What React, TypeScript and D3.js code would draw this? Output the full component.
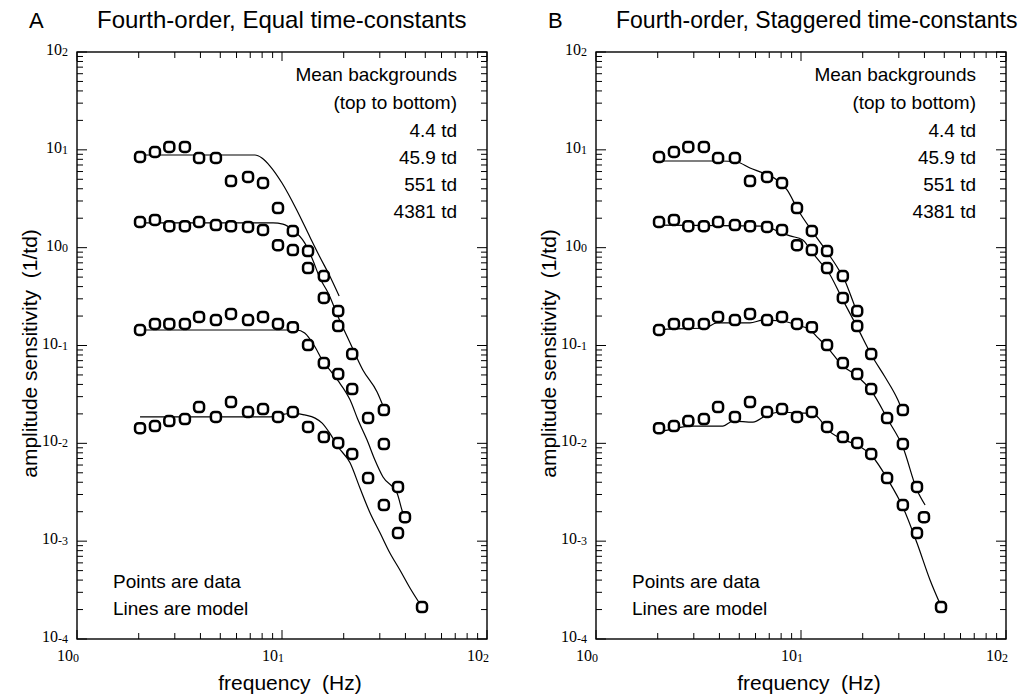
import React from 'react';
import * as d3 from 'd3';

// ---- data ----
const FREQ_HZ = [2.03, 2.40, 2.82, 3.36, 3.94, 4.76, 5.64, 6.83, 8.08, 9.56, 11.3, 13.4, 16.0, 18.8, 22.0, 26.3, 31.4, 36.8, 39.8, 48.2];
const BACKGROUNDS = ['4.4 td', '45.9 td', '551 td', '4381 td'];
const SENS_4_4 = [8.45, 9.50, 10.7, 10.7, 8.25, 8.25, 4.80, 5.28, 4.58, 2.54, 1.48, 0.924, 0.513, 0.225, null, null, null, null, null, null];
const SENS_45_9 = [1.83, 1.92, 1.66, 1.66, 1.83, 1.70, 1.66, 1.63, 1.52, 1.06, 0.946, 0.619, 0.306, 0.158, 0.0818, null, 0.0219, null, null, null];
const SENS_551 = [0.144, 0.166, 0.166, 0.166, 0.196, 0.182, 0.210, 0.182, 0.196, 0.166, 0.154, 0.101, 0.0662, 0.0511, 0.0359, 0.0181, 0.00984, 0.00358, 0.00176, null];
const SENS_4381 = [0.0143, 0.0150, 0.0169, 0.0177, 0.0235, 0.0186, 0.0264, 0.0209, 0.0224, 0.0186, 0.0209, 0.0147, 0.0116, 0.0101, 0.00778, 0.00442, 0.00234, 0.00121, null, 0.000212];

// model A (equal time-constants)
const MA1_F = [2.03, 7.38, 7.98, 8.74, 10.0, 11.8, 13.7, 15.3, 17.1, 19.0];
const MA1_V = [8.85, 8.85, 8.25, 6.83, 4.58, 2.43, 1.28, 0.803, 0.513, 0.320];
const MA2_F = [2.03, 9.04, 10.1, 11.3, 12.9, 14.0, 15.3, 16.8, 18.8, 21.5, 24.8, 29.1, 31.4];
const MA2_V = [1.79, 1.79, 1.74, 1.52, 1.12, 0.784, 0.490, 0.344, 0.196, 0.106, 0.0562, 0.0335, 0.0230];
const MA3_F = [2.03, 11.8, 12.9, 14.5, 15.7, 17.1, 18.8, 21.5, 23.5, 26.0, 28.4, 31.1, 36.4, 38.9, 39.8];
const MA3_V = [0.144, 0.144, 0.134, 0.0964, 0.0710, 0.0562, 0.0434, 0.0277, 0.0173, 0.0108, 0.00675, 0.00452, 0.00311, 0.00194, 0.00176];
const MA4_F = [2.03, 8.74, 10.3, 11.3, 12.9, 14.5, 15.7, 17.1, 18.8, 21.5, 24.0, 26.9, 30.1, 33.6, 37.6, 42.1, 48.2];
const MA4_V = [0.0186, 0.0186, 0.0199, 0.0204, 0.0195, 0.0181, 0.0161, 0.0127, 0.00917, 0.00629, 0.00349, 0.00194, 0.00121, 0.000756, 0.000507, 0.000332, 0.000212];

// model B (staggered time-constants)
const MB1_F = [2.01, 4.03, 4.87, 5.64, 6.53, 7.64, 8.55, 9.67, 11.4, 13.4, 15.0, 16.4, 17.3, 18.8];
const MB1_V = [7.69, 7.69, 7.51, 6.52, 5.80, 4.92, 3.89, 2.43, 1.45, 0.903, 0.634, 0.456, 0.344, 0.215];
const MB2_F = [2.01, 6.53, 8.08, 8.84, 10.2, 11.3, 12.4, 13.4, 16.0, 18.8, 22.2, 25.7, 29.7, 31.4];
const MB2_V = [1.70, 1.66, 1.41, 1.32, 1.20, 0.903, 0.713, 0.591, 0.292, 0.154, 0.0781, 0.0476, 0.0277, 0.0209];
const MB3_F = [2.01, 2.22, 3.40, 3.89, 5.64, 6.53, 8.08, 9.56, 11.1, 12.0, 13.4, 16.0, 18.8, 22.2, 26.6, 31.4, 36.8, 40.3];
const MB3_V = [0.137, 0.147, 0.151, 0.170, 0.170, 0.182, 0.178, 0.162, 0.144, 0.122, 0.0964, 0.0617, 0.0488, 0.0335, 0.0173, 0.00917, 0.00333, 0.00234];
const MB4_F = [2.01, 2.37, 2.87, 4.16, 4.66, 5.83, 6.83, 8.08, 9.56, 11.3, 12.2, 13.4, 15.8, 18.8, 22.2, 26.6, 31.4, 36.8, 42.6, 48.7];
const MB4_V = [0.0131, 0.0140, 0.0150, 0.0150, 0.0169, 0.0165, 0.0195, 0.0209, 0.0204, 0.0204, 0.0181, 0.0140, 0.0111, 0.00961, 0.00742, 0.00422, 0.00223, 0.000957, 0.000401, 0.000207];

const X_DECADES = [0, 1, 2];
const Y_DECADES = [-4, -3, -2, -1, 0, 1, 2];

const SANS = 'Liberation Sans, Arial, Helvetica, sans-serif';
const SERIF = 'Liberation Serif, Times New Roman, serif';

const TOP = 52;
const BOTTOM = 639;
const WIDTH = 410;

type Model = { f: number[]; v: number[] };

function Panel({ x0, letter, title, titleSize, models }: { x0: number; letter: string; title: string; titleSize: number; models: Model[] }) {
  const x = d3.scaleLog().domain([1, 100]).range([x0, x0 + WIDTH]);
  const y = d3.scaleLog().domain([1e-4, 1e2]).range([BOTTOM, TOP]);

  const xTicks: { v: number; major: boolean }[] = [];
  for (let e = 0; e <= 2; e++) for (let k = 1; k <= 9; k++) {
    const v = k * Math.pow(10, e);
    if (v <= 100) xTicks.push({ v, major: k === 1 });
  }
  const yTicks: { v: number; major: boolean }[] = [];
  for (let e = -4; e <= 2; e++) for (let k = 1; k <= 9; k++) {
    const v = k * Math.pow(10, e);
    if (v <= 100.0001) yTicks.push({ v, major: k === 1 });
  }

  const line = d3.line<[number, number]>()
    .x((d) => x(d[0]))
    .y((d) => y(d[1]))
    .curve(d3.curveMonotoneX);

  const series = [SENS_4_4, SENS_45_9, SENS_551, SENS_4381];
  const pts: [number, number][] = [];
  series.forEach((s) => s.forEach((v, i) => { if (v != null) pts.push([FREQ_HZ[i], v]); }));

  const right = x0 + WIDTH;
  const legendX = x0 + 380;

  return (
    <g>
      <text x={x0 - 48} y={28} fontFamily={SANS} fontSize={22}>{letter}</text>
      <text x={x0 + 20} y={28} fontFamily={SANS} fontSize={titleSize}>{title}</text>

      {/* ticks */}
      {xTicks.map((t, i) => (
        <g key={'xt' + i}>
          <line x1={x(t.v)} x2={x(t.v)} y1={BOTTOM} y2={BOTTOM - (t.major ? 9 : 6)} stroke="#000" strokeWidth={1} />
          <line x1={x(t.v)} x2={x(t.v)} y1={TOP} y2={TOP + (t.major ? 9 : 6)} stroke="#000" strokeWidth={1} />
        </g>
      ))}
      {yTicks.map((t, i) => (
        <g key={'yt' + i}>
          <line x1={x0} x2={x0 + (t.major ? 10 : 6)} y1={y(t.v)} y2={y(t.v)} stroke="#000" strokeWidth={1} />
          <line x1={right} x2={right - (t.major ? 10 : 6)} y1={y(t.v)} y2={y(t.v)} stroke="#000" strokeWidth={1} />
        </g>
      ))}
      <rect x={x0} y={TOP} width={WIDTH} height={BOTTOM - TOP} fill="none" stroke="#000" strokeWidth={1.4} />

      {/* tick labels */}
      {Y_DECADES.map((e) => (
        <text key={'yl' + e} x={x0 - 9} y={y(Math.pow(10, e)) + 3} textAnchor="end" fontFamily={SERIF} fontSize={16}>
          10<tspan fontSize={12} dy={1}>{e}</tspan>
        </text>
      ))}
      {X_DECADES.map((e) => (
        <text key={'xl' + e} x={x(Math.pow(10, e)) + 2} y={BOTTOM + 22} textAnchor="end" fontFamily={SERIF} fontSize={16}>
          10<tspan fontSize={12} dy={1}>{e}</tspan>
        </text>
      ))}

      {/* axis titles */}
      <text x={x0 + 213} y={690} textAnchor="middle" fontFamily={SANS} fontSize={21} style={{ whiteSpace: 'pre' }}>frequency  (Hz)</text>
      <text transform={`translate(${x0 - 40},${(TOP + BOTTOM) / 2 + 8}) rotate(-90)`} textAnchor="middle" fontFamily={SANS} fontSize={21} style={{ whiteSpace: 'pre' }}>
        amplitude sensitivity  (1/td)
      </text>

      {/* model lines */}
      {models.map((m, i) => (
        <path key={'m' + i} d={line(m.f.map((f, j) => [f, m.v[j]] as [number, number])) || ''} fill="none" stroke="#000" strokeWidth={1.2} />
      ))}

      {/* data points */}
      {pts.map((p, i) => (
        <rect key={'p' + i} x={x(p[0]) - 5} y={y(p[1]) - 5} width={10} height={10} rx={3.5} fill="#fff" stroke="#000" strokeWidth={2.5} />
      ))}

      {/* legend text */}
      <g fontFamily={SANS} fontSize={19} textAnchor="end">
        <text x={legendX} y={81}>Mean backgrounds</text>
        <text x={legendX} y={109}>(top to bottom)</text>
        {BACKGROUNDS.map((b, i) => (
          <text key={b} x={legendX} y={137 + i * 27}>{b}</text>
        ))}
      </g>
      <g fontFamily={SANS} fontSize={19}>
        <text x={x0 + 36} y={588}>Points are data</text>
        <text x={x0 + 36} y={615}>Lines are model</text>
      </g>
    </g>
  );
}

export default function App() {
  const modelsA: Model[] = [
    { f: MA1_F, v: MA1_V }, { f: MA2_F, v: MA2_V }, { f: MA3_F, v: MA3_V }, { f: MA4_F, v: MA4_V },
  ];
  const modelsB: Model[] = [
    { f: MB1_F, v: MB1_V }, { f: MB2_F, v: MB2_V }, { f: MB3_F, v: MB3_V }, { f: MB4_F, v: MB4_V },
  ];
  return (
    <svg width={1019} height={698} style={{ position: 'absolute', left: 0, top: 0, background: '#fff' }}>
      <rect width={1019} height={698} fill="#fff" />
      <Panel x0={77} letter="A" title="Fourth-order, Equal time-constants" titleSize={24} models={modelsA} />
      <Panel x0={596} letter="B" title="Fourth-order, Staggered time-constants" titleSize={23} models={modelsB} />
    </svg>
  );
}
